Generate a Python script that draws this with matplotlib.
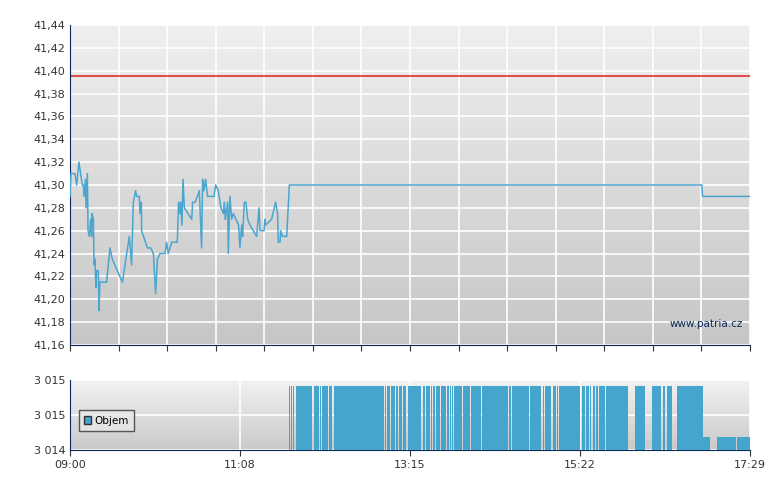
import matplotlib
matplotlib.use("Agg")
import matplotlib.pyplot as plt
import numpy as np
from matplotlib.ticker import FixedLocator

price_t = [0,0.7,3.7,5.0,6.7,9.2,10,10.5,11.5,12,13,13.5,14.5,15.5,16.2,16.5,17.5,18,18.7,19.4,19.9,21.2,21.7,22.4,27.4,29.9,31.7,39.2,44.4,46.1,47.4,49.1,49.9,51.9,52.4,53.4,53.6,57.9,60.4,62.4,64.1,65.4,67.4,71.1,72.3,73.6,76.1,80.3,81.3,82.3,82.8,83.8,84.6,85.6,91.1,91.8,93.8,96.8,98.5,99.3,100.3,101.5,103,107.8,109,111,113,114.8,115.5,116.3,116.8,118,118.5,119.7,121,122.2,126.2,127.2,128.5,129.2,130.5,131.7,133,134.7,139.7,141.5,142.2,145.2,145.9,146.4,150.9,153.9,155.4,155.9,157.2,157.7,159,162.2,164.2,473,473.5,509]
price_v = [41.29,41.31,41.31,41.30,41.32,41.30,41.30,41.29,41.305,41.28,41.31,41.26,41.255,41.27,41.255,41.275,41.27,41.23,41.235,41.21,41.225,41.225,41.19,41.215,41.215,41.245,41.235,41.215,41.255,41.23,41.285,41.295,41.29,41.29,41.275,41.285,41.26,41.245,41.245,41.24,41.205,41.235,41.24,41.24,41.25,41.24,41.25,41.25,41.285,41.275,41.285,41.265,41.305,41.28,41.27,41.285,41.285,41.295,41.245,41.305,41.295,41.305,41.29,41.29,41.30,41.295,41.28,41.275,41.285,41.27,41.275,41.285,41.24,41.29,41.27,41.275,41.265,41.245,41.265,41.255,41.285,41.285,41.27,41.265,41.255,41.28,41.26,41.26,41.27,41.265,41.27,41.285,41.275,41.25,41.25,41.26,41.255,41.255,41.30,41.30,41.29,41.29]
ref_price = 41.395

vol_start = [163.9,165.7,166.9,169.2,182.4,186.9,188.4,194.1,197.4,235.8,237.0,240.5,244.3,246.3,249.0,252.7,264.0,266.2,270.0,271.7,274.0,277.4,281.9,284.2,286.2,287.4,294.4,300.1,308.4,328.8,330.8,344.3,353.8,355.5,361.3,364.5,366.3,383.0,386.2,389.2,391.2,393.7,396.2,401.2,422.9,435.4,443.6,446.6,454.6,473.6,484.0,499.3]
vol_end = [164.9,166.2,167.7,181.1,186.1,187.6,193.4,196.4,235.0,236.3,239.8,243.5,245.5,248.3,251.7,263.0,265.5,269.2,271.0,273.0,276.7,281.2,283.4,285.4,286.7,293.7,299.2,307.4,328.1,329.8,343.6,352.8,354.5,360.3,363.5,365.3,382.0,385.2,388.2,390.2,392.7,395.2,400.2,417.9,430.1,442.6,445.6,450.8,473.6,479.0,498.5,509.0]
vol_val = [3014.91]*49 + [3014.19]*3

navy = "#0b2a5a"
fig = plt.figure(figsize=(7.8, 4.9), dpi=100)
fig.patch.set_facecolor("white")

def grad(ax, top="#efefef", bot="#c6c6c6"):
    g = np.linspace(0, 1, 256).reshape(-1, 1)
    from matplotlib.colors import LinearSegmentedColormap
    cm = LinearSegmentedColormap.from_list("g", [top, bot])
    ax.imshow(g, aspect="auto", cmap=cm, extent=[0, 1, 0, 1], transform=ax.transAxes, zorder=0)

ax = fig.add_axes([70/780, 1-345/490, 680/780, 320/490])
grad(ax)
ax.set_xlim(0, 509)
ax.set_ylim(41.16, 41.44)
yt = np.round(np.arange(41.16, 41.441, 0.02), 2)
ax.set_yticks(yt)
ax.set_yticklabels([f"{v:.2f}".replace(".", ",") for v in yt])
xt = np.linspace(0, 509, 15)
ax.xaxis.set_major_locator(FixedLocator(xt))
ax.set_xticklabels([])
ax.grid(True, color="white", lw=1.2, zorder=1)
ax.plot(price_t, price_v, color="#4aa6d0", lw=1.1, zorder=3)
ax.axhline(ref_price, color="#e03030", lw=1.2, zorder=2)
ax.text(0.99, 0.05, "www.patria.cz", transform=ax.transAxes, ha="right", va="bottom", fontsize=7.5, color=navy)
for s in ["top", "right"]:
    ax.spines[s].set_visible(False)
for s in ["left", "bottom"]:
    ax.spines[s].set_color(navy)
ax.tick_params(colors="#333333", labelsize=8, length=4, direction="out")
ax.tick_params(axis="y", length=0)

ax2 = fig.add_axes([70/780, 1-450/490, 680/780, 70/490])
grad(ax2, "#f2f2f2", "#cacaca")
ax2.set_xlim(0, 509)
ax2.set_ylim(3014.0, 3015.0)
ax2.set_yticks([3014.0, 3014.5, 3015.0])
ax2.set_yticklabels(["3 014", "3 015", "3 015"])
xt2 = np.linspace(0, 509, 5)
ax2.set_xticks(xt2)
ax2.set_xticklabels(["09:00", "11:08", "13:15", "15:22", "17:29"])
ax2.grid(True, color="white", lw=1.2, zorder=1)
for a, b, v in zip(vol_start, vol_end, vol_val):
    ax2.bar(a, v - 3014.0, width=b - a, bottom=3014.0, align="edge", color="#46a5cd", lw=0, zorder=3)
for s in ["top", "right"]:
    ax2.spines[s].set_visible(False)
for s in ["left", "bottom"]:
    ax2.spines[s].set_color(navy)
ax2.tick_params(colors="#333333", labelsize=8, length=4)
ax2.tick_params(axis="y", length=0)
from matplotlib.patches import Patch
leg = ax2.legend([Patch(facecolor="#46a5cd", edgecolor="#333333")], ["Objem"], loc="lower left",
                 bbox_to_anchor=(0.005, 0.2), fontsize=7.5, fancybox=False, handlelength=0.7,
                 handleheight=0.7, borderpad=0.5, handletextpad=0.3)
leg.get_frame().set_edgecolor("#333333")
leg.get_frame().set_facecolor("#e8e8e8")
leg.set_zorder(5)
fig.savefig("out.png", dpi=100)
